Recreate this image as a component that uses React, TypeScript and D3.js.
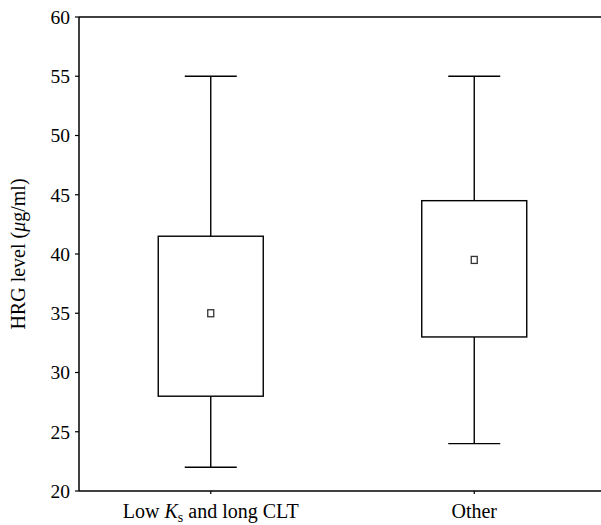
import React from "react";
import * as d3 from "d3";

const categories = ["low", "other"];
const q1Values = [28, 33];
const q3Values = [41.5, 44.5];
const minValues = [22, 24];
const maxValues = [55, 55];
const meanValues = [35, 39.5];
const yTicks = [20, 25, 30, 35, 40, 45, 50, 55, 60];

const W = 601;
const H = 525;
const left = 79;
const right = 606;
const top = 17;
const bottom = 491;

export default function App() {
  const y = d3.scaleLinear().domain([20, 60]).range([bottom, top]);
  const x = d3.scalePoint<string>().domain(categories).range([left, right]).padding(0.5);
  const boxHalf = 52.5;
  const capHalf = 26;
  const font = "'Liberation Serif', 'DejaVu Serif', serif";

  return (
    <svg width={W} height={H} style={{ position: "absolute", left: 0, top: 0 }}>
      <rect width={W} height={H} fill="#fff" />
      <line x1={left} x2={W} y1={top} y2={top} stroke="#000" strokeWidth={1.5} />
      <line x1={left} x2={W} y1={bottom} y2={bottom} stroke="#000" strokeWidth={1.5} />
      <line x1={left} x2={left} y1={top} y2={bottom} stroke="#000" strokeWidth={1.5} />
      {yTicks.map((t) => (
        <g key={t}>
          <line x1={left - 4} x2={left} y1={y(t)} y2={y(t)} stroke="#000" strokeWidth={1.2} />
          <text
            x={left - 9}
            y={y(t)}
            dy="0.35em"
            textAnchor="end"
            fontFamily={font}
            fontSize={19.5}
            fill="#000"
          >
            {t}
          </text>
        </g>
      ))}
      {categories.map((c) => (
        <line key={c} x1={x(c)!} x2={x(c)!} y1={bottom} y2={bottom + 3} stroke="#000" strokeWidth={1.2} />
      ))}
      <text x={x("low")!} y={518} textAnchor="middle" fontFamily={font} fontSize={20} fill="#000">
        Low <tspan fontStyle="italic">K</tspan>
        <tspan fontSize={14} dy={4}>s</tspan>
        <tspan dy={-4}> and long CLT</tspan>
      </text>
      <text x={x("other")!} y={518} textAnchor="middle" fontFamily={font} fontSize={20} fill="#000">
        Other
      </text>
      <text
        transform={`translate(25, ${(top + bottom) / 2}) rotate(-90)`}
        textAnchor="middle"
        fontFamily={font}
        fontSize={20}
        fill="#000"
      >
        HRG level (<tspan fontStyle="italic">μ</tspan>g/ml)
      </text>
      {categories.map((c, i) => {
        const cx = x(c)!;
        return (
          <g key={c} stroke="#000" strokeWidth={1.4} fill="none">
            <line x1={cx} x2={cx} y1={y(maxValues[i])} y2={y(q3Values[i])} />
            <line x1={cx} x2={cx} y1={y(q1Values[i])} y2={y(minValues[i])} />
            <line x1={cx - capHalf} x2={cx + capHalf} y1={y(maxValues[i])} y2={y(maxValues[i])} />
            <line x1={cx - capHalf} x2={cx + capHalf} y1={y(minValues[i])} y2={y(minValues[i])} />
            <rect
              x={cx - boxHalf}
              y={y(q3Values[i])}
              width={boxHalf * 2}
              height={y(q1Values[i]) - y(q3Values[i])}
            />
            <rect
              x={cx - 3}
              y={y(meanValues[i]) - 3.5}
              width={6}
              height={7}
              stroke="#333"
              strokeWidth={1.3}
            />
          </g>
        );
      })}
    </svg>
  );
}
